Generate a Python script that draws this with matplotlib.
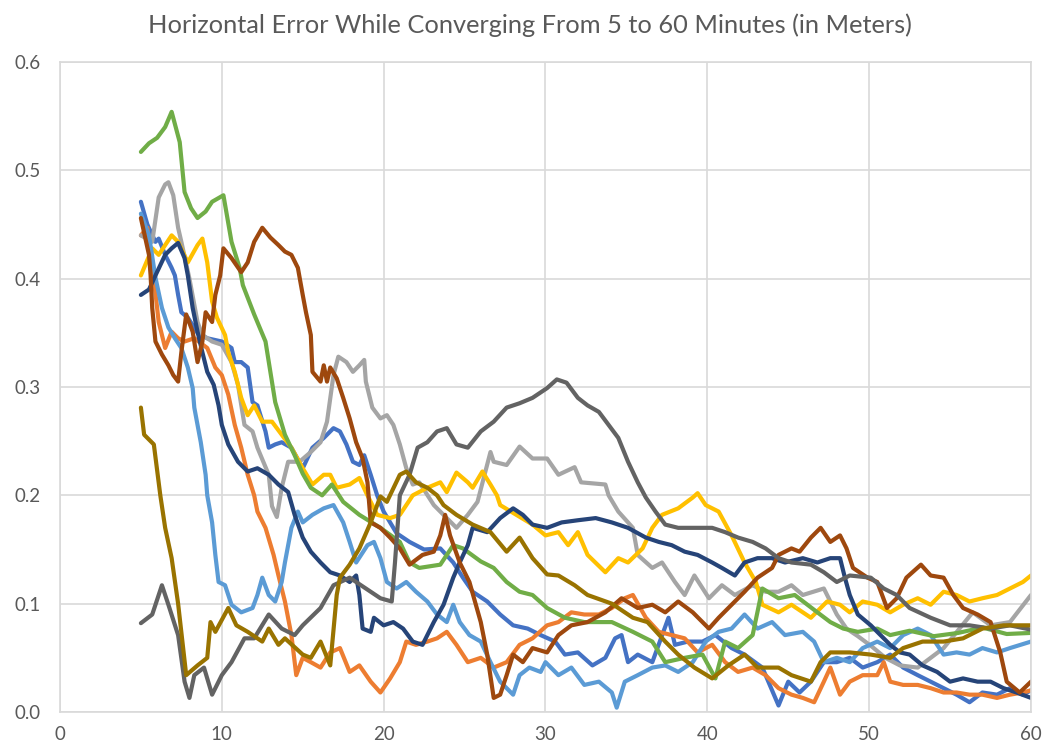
import matplotlib
matplotlib.use("Agg")
import matplotlib.pyplot as plt

# (minute, horizontal error in m)
blue = [(5.0,.471),(5.4,.45),(5.9,.434),(6.1,.437),(6.5,.422),(6.9,.41),(7.1,.403),(7.3,.385),(7.5,.369),(7.9,.364),(8.5,.35),(9.1,.345),(10.0,.342),(10.6,.336),(10.8,.323),(11.2,.323),(11.6,.318),(11.9,.286),(12.2,.283),(12.7,.259),(12.9,.244),(13.3,.247),(13.7,.249),(14.3,.244),(15.0,.225),(15.6,.244),(16.3,.253),(16.9,.262),(17.3,.259),(17.7,.247),(18.1,.231),(18.5,.228),(18.8,.237),(19.2,.219),(19.6,.2),(20.0,.185),(20.8,.165),(21.6,.157),(22.5,.15),(23.5,.151),(24.3,.138),(24.9,.124),(25.5,.111),(26.4,.102),(27.2,.09),(28.0,.08),(28.9,.077),(29.7,.071),(30.6,.065),(31.2,.053),(32.0,.055),(32.9,.043),(33.7,.05),(34.3,.068),(34.7,.071),(35.1,.046),(35.7,.053),(36.6,.046),(37.6,.087),(38.0,.062),(38.8,.065),(39.7,.065),(40.5,.071),(41.5,.059),(42.3,.053),(43.4,.041),(44.4,.006),(45.0,.028),(45.7,.018),(46.4,.028),(47.2,.046),(48.0,.046),(48.8,.05),(49.6,.041),(50.5,.046),(51.3,.053),(52.1,.041),(53.0,.034),(53.8,.028),(54.6,.022),(55.4,.016),(56.2,.009),(57.0,.018),(57.9,.016),(58.7,.022),(59.5,.016),(60.0,.02)]
orange = [(5.0,.44),(5.4,.447),(5.8,.40),(6.1,.36),(6.5,.336),(6.9,.351),(7.3,.345),(7.7,.342),(8.3,.345),(9.1,.336),(9.6,.318),(10.0,.311),(10.4,.293),(10.8,.265),(11.2,.244),(11.6,.219),(12.0,.2),(12.2,.185),(12.7,.17),(13.2,.145),(13.5,.126),(13.9,.102),(14.3,.071),(14.6,.034),(15.0,.05),(15.5,.046),(16.1,.041),(16.7,.055),(17.3,.059),(17.9,.037),(18.5,.043),(19.2,.028),(19.8,.018),(20.4,.031),(21.0,.046),(21.4,.065),(22.0,.062),(22.7,.065),(23.3,.068),(23.9,.074),(24.5,.062),(25.2,.046),(26.0,.05),(26.8,.041),(27.6,.046),(28.4,.062),(29.2,.068),(30.1,.08),(30.8,.083),(31.6,.092),(32.4,.09),(33.3,.09),(34.1,.096),(34.9,.105),(35.4,.108),(36.2,.087),(37.0,.074),(37.8,.071),(38.6,.068),(39.4,.055),(40.3,.062),(41.1,.046),(41.9,.037),(42.8,.041),(43.6,.034),(44.4,.022),(45.2,.016),(45.9,.013),(46.6,.009),(47.2,.028),(47.6,.041),(48.2,.016),(48.8,.028),(49.6,.034),(50.5,.034),(50.9,.046),(51.3,.028),(52.1,.025),(53.0,.025),(53.8,.022),(54.6,.018),(55.4,.018),(56.2,.016),(57.0,.016),(57.9,.013),(58.7,.016),(59.5,.018),(60.0,.02)]
gray = [(5.0,.44),(5.7,.434),(6.1,.475),(6.5,.487),(6.7,.489),(7.0,.477),(7.3,.447),(7.5,.434),(8.0,.40),(8.5,.36),(8.8,.348),(9.4,.342),(10.0,.339),(10.6,.323),(11.0,.302),(11.4,.265),(11.9,.259),(12.2,.244),(12.9,.219),(13.1,.19),(13.4,.18),(13.7,.207),(14.1,.231),(14.8,.231),(15.5,.24),(16.1,.249),(16.5,.268),(16.9,.311),(17.2,.328),(17.7,.323),(18.1,.314),(18.5,.32),(18.8,.325),(18.9,.305),(19.3,.281),(19.8,.271),(20.2,.274),(20.6,.265),(21.0,.247),(21.4,.225),(21.8,.21),(22.2,.212),(23.1,.191),(23.9,.179),(24.5,.17),(25.2,.182),(25.8,.194),(26.6,.24),(26.8,.231),(27.6,.228),(28.4,.245),(29.2,.234),(30.1,.234),(30.8,.219),(31.8,.226),(32.2,.212),(33.7,.21),(33.9,.2),(34.5,.185),(35.4,.17),(35.7,.145),(36.6,.133),(37.2,.138),(38.0,.12),(38.6,.108),(39.2,.126),(40.1,.105),(40.9,.117),(41.7,.108),(42.8,.117),(43.6,.111),(44.4,.111),(45.2,.117),(45.9,.108),(47.2,.114),(48.0,.09),(48.6,.077),(49.3,.07),(50.2,.06),(51.0,.05),(51.9,.043),(53.0,.041),(54.6,.059),(56.4,.092),(57.5,.08),(58.7,.083),(60.0,.108)]
yellow = [(5.0,.403),(5.7,.428),(6.1,.422),(6.9,.44),(7.3,.434),(7.9,.415),(8.5,.431),(8.8,.437),(9.1,.415),(9.4,.379),(9.7,.364),(10.2,.348),(10.4,.332),(10.8,.314),(11.2,.29),(11.6,.274),(12.0,.283),(12.5,.268),(13.1,.268),(13.7,.256),(14.3,.244),(15.0,.225),(15.6,.21),(16.3,.219),(16.7,.219),(17.1,.207),(17.9,.21),(18.5,.216),(18.9,.203),(19.6,.182),(20.4,.179),(21.0,.182),(21.8,.2),(22.7,.207),(23.5,.212),(23.9,.203),(24.5,.221),(25.2,.212),(25.5,.207),(26.1,.222),(26.6,.21),(27.0,.2),(27.2,.191),(28.2,.182),(29.2,.173),(30.0,.163),(30.8,.166),(31.4,.154),(32.0,.166),(32.6,.145),(33.7,.129),(34.5,.142),(35.1,.138),(36.0,.151),(36.6,.17),(37.2,.182),(38.2,.188),(39.1,.198),(39.4,.202),(39.9,.191),(40.7,.185),(41.5,.163),(42.3,.138),(43.0,.12),(43.4,.099),(44.4,.092),(45.2,.099),(46.4,.087),(47.4,.102),(48.2,.099),(48.8,.092),(49.6,.102),(50.5,.099),(51.3,.092),(52.1,.099),(53.0,.105),(53.8,.099),(54.6,.111),(55.4,.108),(56.2,.102),(57.0,.105),(57.9,.108),(58.7,.114),(59.5,.12),(60.0,.126)]
light_blue = [(5.0,.46),(5.5,.44),(5.9,.401),(6.3,.373),(6.7,.355),(7.1,.345),(7.5,.336),(7.9,.318),(8.2,.299),(8.3,.281),(8.7,.249),(9.0,.219),(9.1,.2),(9.4,.175),(9.6,.145),(9.8,.12),(10.2,.117),(10.6,.099),(11.2,.092),(11.9,.096),(12.2,.108),(12.5,.124),(12.9,.108),(13.3,.102),(13.7,.12),(13.9,.138),(14.3,.17),(14.7,.185),(15.0,.175),(15.6,.182),(16.3,.188),(16.9,.191),(17.5,.175),(17.9,.157),(18.3,.138),(19.0,.154),(19.4,.157),(19.8,.142),(20.2,.12),(20.8,.114),(21.4,.12),(22.0,.111),(22.7,.102),(23.3,.09),(23.9,.083),(24.3,.099),(24.7,.083),(25.3,.071),(26.0,.065),(26.6,.046),(27.2,.028),(28.0,.016),(28.4,.034),(29.0,.041),(29.7,.037),(30.0,.046),(30.8,.034),(31.6,.041),(32.4,.025),(33.3,.028),(34.1,.018),(34.4,.004),(34.9,.028),(35.7,.034),(36.6,.041),(37.4,.043),(38.2,.037),(39.1,.046),(39.9,.065),(40.7,.074),(41.5,.077),(42.3,.09),(43.1,.077),(44.0,.083),(44.8,.071),(45.9,.074),(46.6,.065),(47.2,.046),(48.0,.05),(48.8,.046),(49.6,.059),(50.5,.065),(51.3,.059),(52.1,.071),(53.0,.077),(53.8,.071),(54.6,.053),(55.4,.055),(56.2,.053),(57.0,.059),(57.9,.055),(58.7,.059),(60.0,.065)]
green = [(5.0,.517),(5.5,.525),(6.0,.53),(6.5,.54),(6.9,.554),(7.4,.526),(7.7,.48),(8.1,.465),(8.5,.456),(9.0,.462),(9.4,.471),(10.1,.477),(10.6,.434),(11.1,.41),(11.3,.394),(12.0,.367),(12.7,.342),(13.3,.286),(13.9,.256),(14.5,.237),(15.0,.22),(15.5,.207),(16.2,.2),(16.8,.21),(17.5,.194),(18.5,.182),(19.8,.17),(21.0,.157),(21.6,.138),(22.2,.133),(23.5,.136),(24.3,.154),(24.9,.151),(26.0,.139),(26.8,.133),(27.6,.12),(28.4,.111),(29.2,.108),(30.1,.096),(31.2,.087),(32.4,.083),(34.1,.083),(35.4,.074),(36.6,.065),(37.4,.046),(38.6,.05),(39.7,.053),(40.5,.031),(41.1,.065),(41.9,.059),(42.8,.071),(43.4,.114),(44.4,.105),(45.4,.108),(46.8,.092),(47.6,.083),(48.4,.077),(49.3,.074),(50.5,.077),(51.3,.071),(52.5,.075),(54.0,.07),(55.5,.073),(57.0,.078),(58.5,.072),(60.0,.073)]
dark_blue = [(5.0,.385),(5.5,.39),(5.9,.403),(6.5,.422),(6.9,.428),(7.3,.433),(7.7,.419),(7.9,.403),(8.2,.373),(8.5,.351),(8.8,.332),(9.1,.314),(9.5,.302),(9.8,.283),(10.0,.265),(10.4,.247),(11.0,.231),(11.6,.222),(12.2,.225),(12.9,.219),(13.5,.21),(14.1,.203),(14.5,.182),(15.0,.161),(15.5,.148),(16.1,.138),(16.7,.129),(17.3,.126),(17.9,.12),(18.3,.126),(18.5,.108),(18.7,.077),(19.2,.074),(19.4,.087),(20.0,.08),(20.6,.083),(21.2,.077),(21.8,.065),(22.4,.062),(23.1,.083),(23.7,.099),(24.3,.124),(24.7,.138),(25.2,.154),(25.5,.17),(26.4,.166),(27.2,.179),(28.0,.188),(28.6,.182),(29.2,.173),(30.1,.17),(31.0,.175),(32.0,.177),(33.1,.179),(34.1,.175),(35.1,.17),(36.2,.161),(37.0,.157),(37.8,.154),(38.6,.148),(39.4,.145),(40.3,.138),(40.9,.133),(41.7,.126),(42.3,.138),(43.1,.142),(44.0,.142),(44.8,.138),(45.9,.142),(46.8,.138),(47.6,.142),(48.2,.142),(48.5,.124),(48.8,.108),(49.3,.09),(50.1,.08),(50.7,.071),(51.3,.062),(51.9,.055),(52.5,.053),(53.3,.043),(54.2,.037),(55.0,.028),(55.8,.031),(56.7,.028),(57.5,.028),(58.3,.022),(59.1,.018),(60.0,.013)]
brown = [(5.0,.456),(5.5,.422),(5.6,.403),(5.7,.373),(5.9,.342),(6.3,.33),(6.7,.32),(7.0,.311),(7.3,.305),(7.5,.332),(7.8,.367),(8.2,.351),(8.5,.323),(8.8,.342),(9.0,.369),(9.4,.36),(9.6,.385),(9.9,.403),(10.1,.428),(10.6,.419),(11.2,.406),(11.6,.415),(12.0,.434),(12.5,.447),(13.0,.438),(13.5,.431),(13.9,.425),(14.3,.422),(14.7,.41),(15.0,.385),(15.2,.369),(15.5,.348),(15.6,.314),(16.1,.305),(16.3,.32),(16.5,.305),(16.7,.318),(17.1,.308),(17.5,.29),(17.9,.271),(18.3,.249),(18.7,.234),(19.0,.212),(19.2,.175),(19.8,.17),(20.4,.161),(21.0,.151),(21.6,.136),(22.4,.145),(23.1,.148),(23.5,.163),(23.8,.182),(24.1,.163),(24.7,.138),(25.3,.12),(26.0,.083),(26.4,.053),(26.8,.013),(27.2,.016),(27.6,.034),(28.0,.053),(28.6,.046),(29.2,.059),(30.1,.055),(30.8,.071),(31.6,.08),(32.6,.083),(33.7,.092),(34.7,.105),(35.7,.096),(36.6,.099),(37.4,.092),(38.2,.102),(39.1,.092),(40.1,.077),(40.7,.087),(41.5,.099),(42.3,.111),(43.1,.124),(44.0,.133),(44.4,.145),(45.2,.151),(45.7,.148),(46.4,.161),(47.0,.17),(47.6,.157),(48.2,.163),(48.6,.151),(49.0,.133),(49.9,.124),(50.5,.12),(51.1,.096),(51.7,.105),(52.3,.124),(53.2,.136),(53.8,.126),(54.6,.124),(55.2,.108),(55.8,.096),(56.7,.09),(57.5,.083),(58.1,.055),(58.5,.028),(59.3,.018),(60.0,.028)]
dark_gray = [(5.0,.082),(5.7,.09),(6.3,.117),(6.7,.099),(7.3,.071),(7.7,.028),(8.0,.013),(8.3,.034),(8.9,.041),(9.4,.016),(10.0,.034),(10.6,.046),(11.4,.068),(12.0,.068),(12.9,.09),(13.7,.077),(14.5,.071),(15.0,.08),(16.1,.096),(16.9,.117),(17.9,.124),(18.9,.114),(19.8,.105),(20.5,.102),(20.7,.138),(21.0,.2),(21.6,.219),(22.1,.244),(22.7,.249),(23.3,.259),(23.9,.262),(24.5,.247),(25.2,.244),(26.0,.259),(26.8,.268),(27.6,.281),(28.4,.285),(29.2,.29),(30.1,.299),(30.7,.307),(31.3,.304),(32.0,.29),(32.6,.283),(33.3,.277),(33.9,.265),(34.5,.253),(35.1,.231),(35.7,.212),(36.2,.198),(36.8,.185),(37.4,.173),(38.2,.17),(39.2,.17),(40.3,.17),(41.1,.166),(41.9,.161),(42.8,.157),(43.6,.151),(44.4,.142),(45.2,.138),(46.4,.136),(47.2,.129),(48.0,.12),(48.8,.126),(50.1,.124),(50.9,.114),(51.7,.108),(52.5,.096),(53.8,.087),(55.0,.08),(56.2,.08),(57.5,.077),(58.7,.08),(60.0,.076)]
olive = [(5.0,.281),(5.2,.256),(5.8,.247),(6.2,.2),(6.5,.17),(6.9,.142),(7.3,.1),(7.8,.034),(8.5,.043),(9.1,.05),(9.3,.083),(9.6,.074),(10.4,.096),(10.9,.08),(11.6,.074),(12.5,.065),(12.9,.077),(13.5,.062),(13.9,.068),(15.0,.053),(15.5,.05),(16.1,.065),(16.7,.043),(17.1,.108),(17.3,.124),(17.9,.136),(18.5,.151),(19.2,.175),(19.8,.199),(20.2,.194),(21.0,.219),(21.4,.222),(22.0,.212),(22.7,.207),(23.3,.2),(23.7,.191),(24.5,.182),(25.5,.173),(26.6,.166),(27.6,.148),(28.4,.161),(29.2,.142),(30.1,.127),(30.8,.126),(31.8,.117),(32.6,.108),(34.1,.1),(35.4,.087),(36.3,.083),(37.4,.065),(38.2,.053),(39.2,.041),(40.3,.031),(41.3,.043),(42.3,.053),(43.1,.041),(44.4,.041),(45.2,.034),(46.4,.028),(47.0,.046),(47.6,.055),(48.8,.055),(50.1,.053),(51.3,.05),(52.1,.059),(53.3,.065),(54.6,.065),(55.8,.068),(57.0,.077),(58.3,.08),(60.0,.08)]

series = [blue, orange, gray, yellow, light_blue, green, dark_blue, brown, dark_gray, olive]
colors = ['#4472C4', '#ED7D31', '#A5A5A5', '#FFC000', '#5B9BD5',
          '#70AD47', '#264478', '#9E480E', '#636363', '#997300']

plt.rcParams['font.family'] = ['Lato', 'DejaVu Sans']

fig = plt.figure(figsize=(10.43, 7.49), dpi=100)
ax = fig.add_axes([0.0575, 0.0494, 0.931, 0.8678])

for pts, c in zip(series, colors):
    xs, ys = zip(*pts)
    ax.plot(xs, ys, color=c, lw=3.0, solid_joinstyle='round', solid_capstyle='round')

ax.set_xlim(0, 60)
ax.set_ylim(0, 0.6)
ax.set_xticks(range(0, 61, 10))
ax.set_yticks([i / 10 for i in range(7)])
ax.set_yticklabels([f"{i / 10:.1f}" for i in range(7)])
ax.grid(True, color='#D9D9D9', lw=1.2)
ax.set_axisbelow(True)
for s in ax.spines.values():
    s.set_color('#D9D9D9')
    s.set_linewidth(1.2)
ax.tick_params(length=0, labelsize=13.5, colors='#595959')
ax.tick_params(axis='y', pad=14)
ax.tick_params(axis='x', pad=10)

fig.text(0.508, 0.966, "Horizontal Error While Converging From 5 to 60 Minutes (in Meters)",
         ha='center', va='center', fontsize=18.3, color='#595959')

fig.savefig("out.png", dpi=100)
